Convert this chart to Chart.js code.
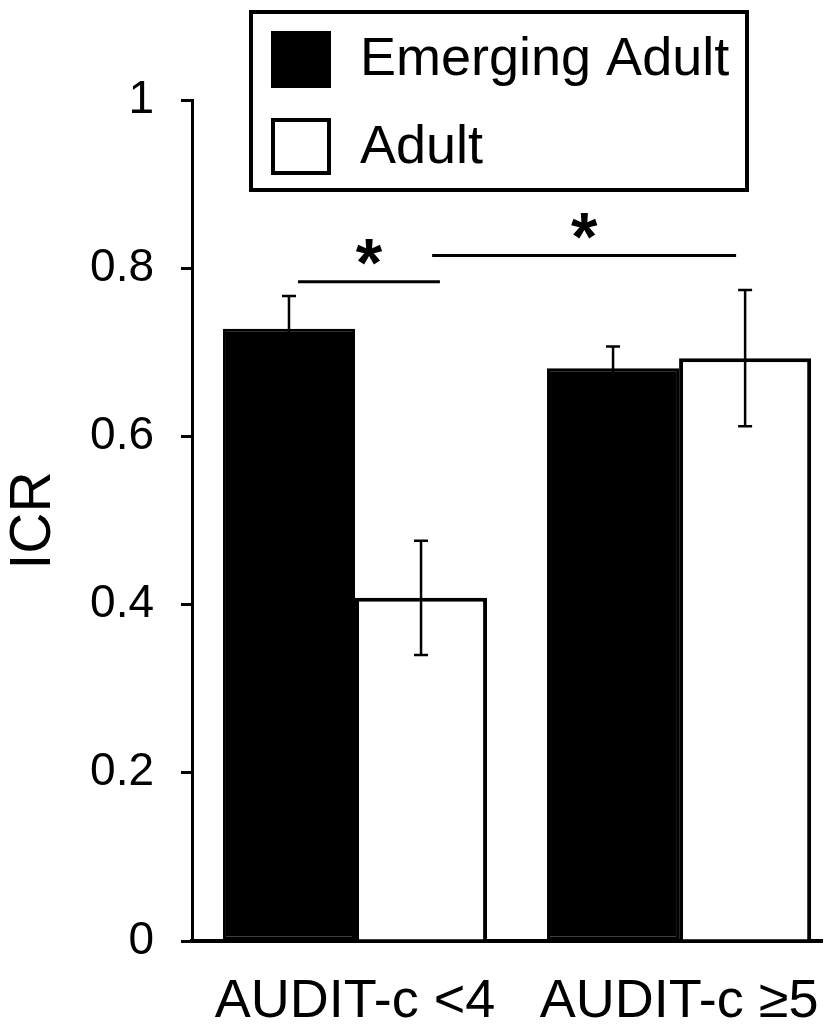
<!DOCTYPE html>
<html><head><meta charset="utf-8">
<script src="https://cdn.jsdelivr.net/npm/chart.js@4.4.1/dist/chart.umd.min.js"></script>
<style>html,body{margin:0;padding:0;background:#fff;overflow:hidden}#wrap{width:834px;height:1032px;position:relative}</style>
</head><body><div id="wrap"><canvas id="c" width="834" height="1032"></canvas></div>
<script>
// ---- data ----
const categories = ['AUDIT-c <4', 'AUDIT-c \u22655'];
const categoryPositions = [0, 1];
const seriesNames = ['Emerging Adult', 'Adult'];
const emergingAdult = [0.728, 0.681];
const emergingAdultErr = [0.039, 0.026];
const adult = [0.408, 0.693];
const adultErr = [0.068, 0.081];
const yTicks = [0, 0.2, 0.4, 0.6, 0.8, 1];
const yTickLabels = ['0', '0.2', '0.4', '0.6', '0.8', '1'];
const yTitle = 'ICR';
const sigFrom = [-0.176, 0.238];
const sigTo = [0.262, 1.176];
const sigLevel = [0.784, 0.815];
const sigLabel = ['*', '*'];

// ---- styling ----
const FONT = "'Liberation Sans', Arial, Helvetica, sans-serif";
Chart.defaults.font.family = FONT;
Chart.defaults.color = '#000';

const errorBars = {
  id: 'errorBars',
  afterDatasetsDraw(chart) {
    const ctx = chart.ctx, ys = chart.scales.y;
    ctx.save();
    ctx.strokeStyle = '#000';
    ctx.lineWidth = 2.5;
    chart.data.datasets.forEach((ds, di) => {
      const meta = chart.getDatasetMeta(di);
      meta.data.forEach((el, i) => {
        const v = ds.data[i].y, e = ds.err[i];
        const yt = ys.getPixelForValue(v + e), yb = ys.getPixelForValue(v - e);
        const x = el.x, cw = 7;
        ctx.beginPath();
        ctx.moveTo(x, yt); ctx.lineTo(x, yb);
        ctx.moveTo(x - cw, yt); ctx.lineTo(x + cw, yt);
        ctx.moveTo(x - cw, yb); ctx.lineTo(x + cw, yb);
        ctx.stroke();
      });
    });
    ctx.restore();
  }
};

const sigPlugin = {
  id: 'sig',
  afterDatasetsDraw(chart) {
    const ctx = chart.ctx, xs = chart.scales.x, ys = chart.scales.y;
    ctx.save();
    ctx.strokeStyle = '#000';
    ctx.fillStyle = '#000';
    ctx.lineWidth = 3;
    ctx.font = 'bold 68px ' + FONT;
    ctx.textAlign = 'center';
    ctx.textBaseline = 'alphabetic';
    sigFrom.forEach((f, i) => {
      const x1 = xs.getPixelForValue(f), x2 = xs.getPixelForValue(sigTo[i]);
      const y = ys.getPixelForValue(sigLevel[i]);
      ctx.beginPath(); ctx.moveTo(x1, y); ctx.lineTo(x2, y); ctx.stroke();
      ctx.fillText(sigLabel[i], (x1 + x2) / 2, y + 4);
    });
    ctx.restore();
  }
};

const legendBox = {
  id: 'legendBox',
  afterDraw(chart) {
    const ctx = chart.ctx;
    ctx.save();
    ctx.fillStyle = '#fff';
    ctx.fillRect(251, 12, 496, 178);
    ctx.strokeStyle = '#000';
    ctx.lineWidth = 4;
    ctx.strokeRect(251, 12, 496, 178);
    ctx.font = '54px ' + FONT;
    ctx.textBaseline = 'alphabetic';
    ctx.textAlign = 'left';
    const rows = [{sy: 31, ty: 75}, {sy: 118, ty: 163}];
    chart.data.datasets.forEach((ds, i) => {
      const r = rows[i];
      ctx.fillStyle = ds.backgroundColor;
      ctx.fillRect(271, r.sy, 60, 57);
      ctx.lineWidth = ds.borderWidth;
      ctx.strokeStyle = ds.borderColor;
      ctx.strokeRect(271 + ds.borderWidth / 2, r.sy + ds.borderWidth / 2, 60 - ds.borderWidth, 57 - ds.borderWidth);
      ctx.fillStyle = '#000';
      ctx.fillText(ds.label, 360, r.ty);
    });
    ctx.restore();
  }
};

new Chart(document.getElementById('c'), {
  type: 'bar',
  data: {
    datasets: [
      { label: seriesNames[0], data: categoryPositions.map((x, i) => ({x, y: emergingAdult[i]})), err: emergingAdultErr,
        backgroundColor: '#000', borderColor: '#000', borderWidth: 3, borderSkipped: false },
      { label: seriesNames[1], data: categoryPositions.map((x, i) => ({x, y: adult[i]})), err: adultErr,
        backgroundColor: '#fff', borderColor: '#000', borderWidth: 4, borderSkipped: 'bottom' }
    ]
  },
  options: {
    responsive: false, animation: false, devicePixelRatio: 1,
    layout: { autoPadding: false, padding: { left: 0, right: 12, top: 100, bottom: 0 } },
    plugins: { legend: { display: false }, tooltip: { enabled: false } },
    datasets: { bar: { categoryPercentage: 0.815, barPercentage: 1 } },
    scales: {
      x: {
        type: 'linear', min: -0.503, max: 1.441, offset: false,
        grid: { display: false, drawTicks: false, offset: false },
        border: { display: true, color: '#000', width: 4 },
        afterBuildTicks: s => { s.ticks = categoryPositions.map(v => ({value: v})); },
        ticks: { callback: v => categories[categoryPositions.indexOf(v)], font: { size: 54 }, color: '#000', padding: 29, maxRotation: 0, autoSkip: false },
        afterFit: s => { s.height = 91; s.paddingLeft = 0; s.paddingRight = 0; }
      },
      y: {
        min: 0, max: 1,
        afterBuildTicks: s => { s.ticks = yTicks.map(v => ({value: v})); },
        ticks: { callback: v => yTickLabels[yTicks.indexOf(v)], font: { size: 46 }, color: '#000', padding: 27 },
        grid: { display: true, drawOnChartArea: false, drawTicks: true, tickLength: 11, color: '#000', lineWidth: 3 },
        border: { display: true, color: '#000', width: 3 },
        title: { display: true, text: yTitle, font: { size: 57 }, color: '#000', padding: { top: 0, bottom: 0 } },
        afterFit: s => { s.width = 192; s.paddingTop = 0; s.paddingBottom = 0; }
      }
    }
  },
  plugins: [errorBars, sigPlugin, legendBox]
});
</script>
</body></html>
